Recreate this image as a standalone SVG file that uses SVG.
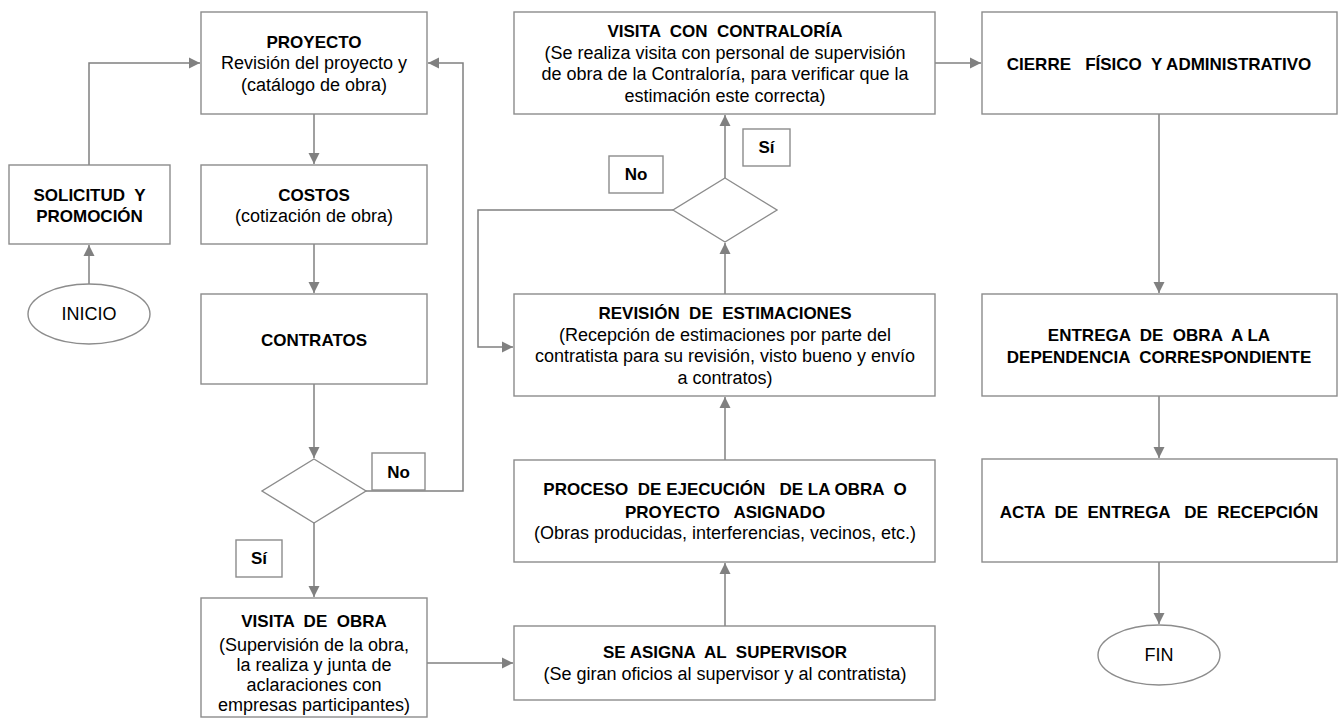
<svg xmlns="http://www.w3.org/2000/svg" width="1338" height="721" viewBox="0 0 1338 721">
<style>
.box{fill:#fff;stroke:#8c8c8c;stroke-width:1.4}
.lbl{fill:#fff;stroke:#8c8c8c;stroke-width:1.4}
.c{fill:none;stroke:#808080;stroke-width:1.5}
text{font-family:"Liberation Sans",Arial,sans-serif;font-size:18px;fill:#000;text-anchor:middle;white-space:pre}
.b{font-weight:bold;font-size:17px}
</style>
<defs>
<marker id="ah" markerUnits="userSpaceOnUse" markerWidth="12" markerHeight="12" refX="11" refY="6" orient="auto">
<path d="M0,0.5 L11,6 L0,11.5 z" fill="#808080"/>
</marker>
</defs>
<rect width="1338" height="721" fill="#fff"/>
<g id="connectors">
<path class="c" d="M89,284 V245" marker-end="url(#ah)"/>
<path class="c" d="M89,165 V63 H200" marker-end="url(#ah)"/>
<path class="c" d="M314,114 V164" marker-end="url(#ah)"/>
<path class="c" d="M314,244 V293" marker-end="url(#ah)"/>
<path class="c" d="M314,384 V458" marker-end="url(#ah)"/>
<path class="c" d="M366,491 H463 V63 H428" marker-end="url(#ah)"/>
<path class="c" d="M314,523 V597" marker-end="url(#ah)"/>
<path class="c" d="M427,663 H513" marker-end="url(#ah)"/>
<path class="c" d="M725,626 V563" marker-end="url(#ah)"/>
<path class="c" d="M725,460 V397" marker-end="url(#ah)"/>
<path class="c" d="M725,294 V243" marker-end="url(#ah)"/>
<path class="c" d="M725,178 V115" marker-end="url(#ah)"/>
<path class="c" d="M673,210 H478 V347 H513" marker-end="url(#ah)"/>
<path class="c" d="M935,63 H981" marker-end="url(#ah)"/>
<path class="c" d="M1159,114 V293" marker-end="url(#ah)"/>
<path class="c" d="M1159,396 V458" marker-end="url(#ah)"/>
<path class="c" d="M1159,562 V624" marker-end="url(#ah)"/>
</g>
<g id="inicio">
<ellipse class="box" cx="89" cy="314" rx="61" ry="30"/>
<text x="89" y="320">INICIO</text>
</g>
<g id="solicitud">
<rect class="box" x="9" y="165" width="161" height="79"/>
<text class="b" x="89.5" y="201">SOLICITUD  Y</text>
<text class="b" x="89.5" y="222">PROMOCIÓN</text>
</g>
<g id="proyecto">
<rect class="box" x="201" y="12" width="226" height="102"/>
<text class="b" x="314" y="48">PROYECTO</text>
<text x="314" y="69">Revisión del proyecto y</text>
<text x="314" y="91">(catálogo de obra)</text>
</g>
<g id="costos">
<rect class="box" x="201" y="165" width="226" height="79"/>
<text class="b" x="314" y="201">COSTOS</text>
<text x="314" y="222">(cotización de obra)</text>
</g>
<g id="contratos">
<rect class="box" x="201" y="294" width="226" height="90"/>
<text class="b" x="314" y="346">CONTRATOS</text>
</g>
<g id="decision1">
<polygon class="box" points="314,459 366,491 314,523 262,491"/>
</g>
<g id="label-no1">
<rect class="lbl" x="372" y="453" width="53" height="37"/>
<text class="b" x="398.5" y="477.5">No</text>
</g>
<g id="label-si1">
<rect class="lbl" x="236" y="540" width="46" height="37"/>
<text class="b" x="259" y="564">Sí</text>
</g>
<g id="visita-obra">
<rect class="box" x="201" y="598" width="226" height="119"/>
<text class="b" x="314" y="627">VISITA  DE  OBRA</text>
<text x="314" y="651">(Supervisión de la obra,</text>
<text x="314" y="671">la realiza y junta de</text>
<text x="314" y="691">aclaraciones con</text>
<text x="314" y="711">empresas participantes)</text>
</g>
<g id="asigna">
<rect class="box" x="514" y="626" width="421" height="74"/>
<text class="b" x="725" y="658">SE ASIGNA  AL  SUPERVISOR</text>
<text x="725" y="680">(Se giran oficios al supervisor y al contratista)</text>
</g>
<g id="proceso">
<rect class="box" x="514" y="460" width="421" height="102"/>
<text class="b" x="725" y="495">PROCESO  DE EJECUCIÓN   DE LA OBRA  O</text>
<text class="b" x="725" y="518">PROYECTO   ASIGNADO</text>
<text x="725" y="539">(Obras producidas, interferencias, vecinos, etc.)</text>
</g>
<g id="revision">
<rect class="box" x="514" y="294" width="421" height="102"/>
<text class="b" x="725" y="319">REVISIÓN  DE  ESTIMACIONES</text>
<text x="725" y="341">(Recepción de estimaciones por parte del</text>
<text x="725" y="362">contratista para su revisión, visto bueno y envío</text>
<text x="725" y="384">a contratos)</text>
</g>
<g id="decision2">
<polygon class="box" points="725,178 777,210 725,242 673,210"/>
</g>
<g id="label-no2">
<rect class="lbl" x="609" y="156" width="54" height="37"/>
<text class="b" x="636" y="180">No</text>
</g>
<g id="label-si2">
<rect class="lbl" x="743" y="129" width="47" height="37"/>
<text class="b" x="766.5" y="153">Sí</text>
</g>
<g id="visita-contraloria">
<rect class="box" x="514" y="12" width="421" height="102"/>
<text class="b" x="725" y="37">VISITA  CON  CONTRALORÍA</text>
<text x="725" y="59">(Se realiza visita con personal de supervisión</text>
<text x="725" y="80">de obra de la Contraloría, para verificar que la</text>
<text x="725" y="102">estimación este correcta)</text>
</g>
<g id="cierre">
<rect class="box" x="982" y="12" width="355" height="102"/>
<text class="b" x="1159" y="70">CIERRE   FÍSICO  Y ADMINISTRATIVO</text>
</g>
<g id="entrega">
<rect class="box" x="982" y="294" width="355" height="102"/>
<text class="b" x="1159" y="341">ENTREGA  DE  OBRA  A LA</text>
<text class="b" x="1159" y="363">DEPENDENCIA  CORRESPONDIENTE</text>
</g>
<g id="acta">
<rect class="box" x="982" y="459" width="355" height="103"/>
<text class="b" x="1159" y="518">ACTA  DE  ENTREGA   DE  RECEPCIÓN</text>
</g>
<g id="fin">
<ellipse class="box" cx="1159" cy="655" rx="61" ry="30"/>
<text x="1159" y="661">FIN</text>
</g>
</svg>
